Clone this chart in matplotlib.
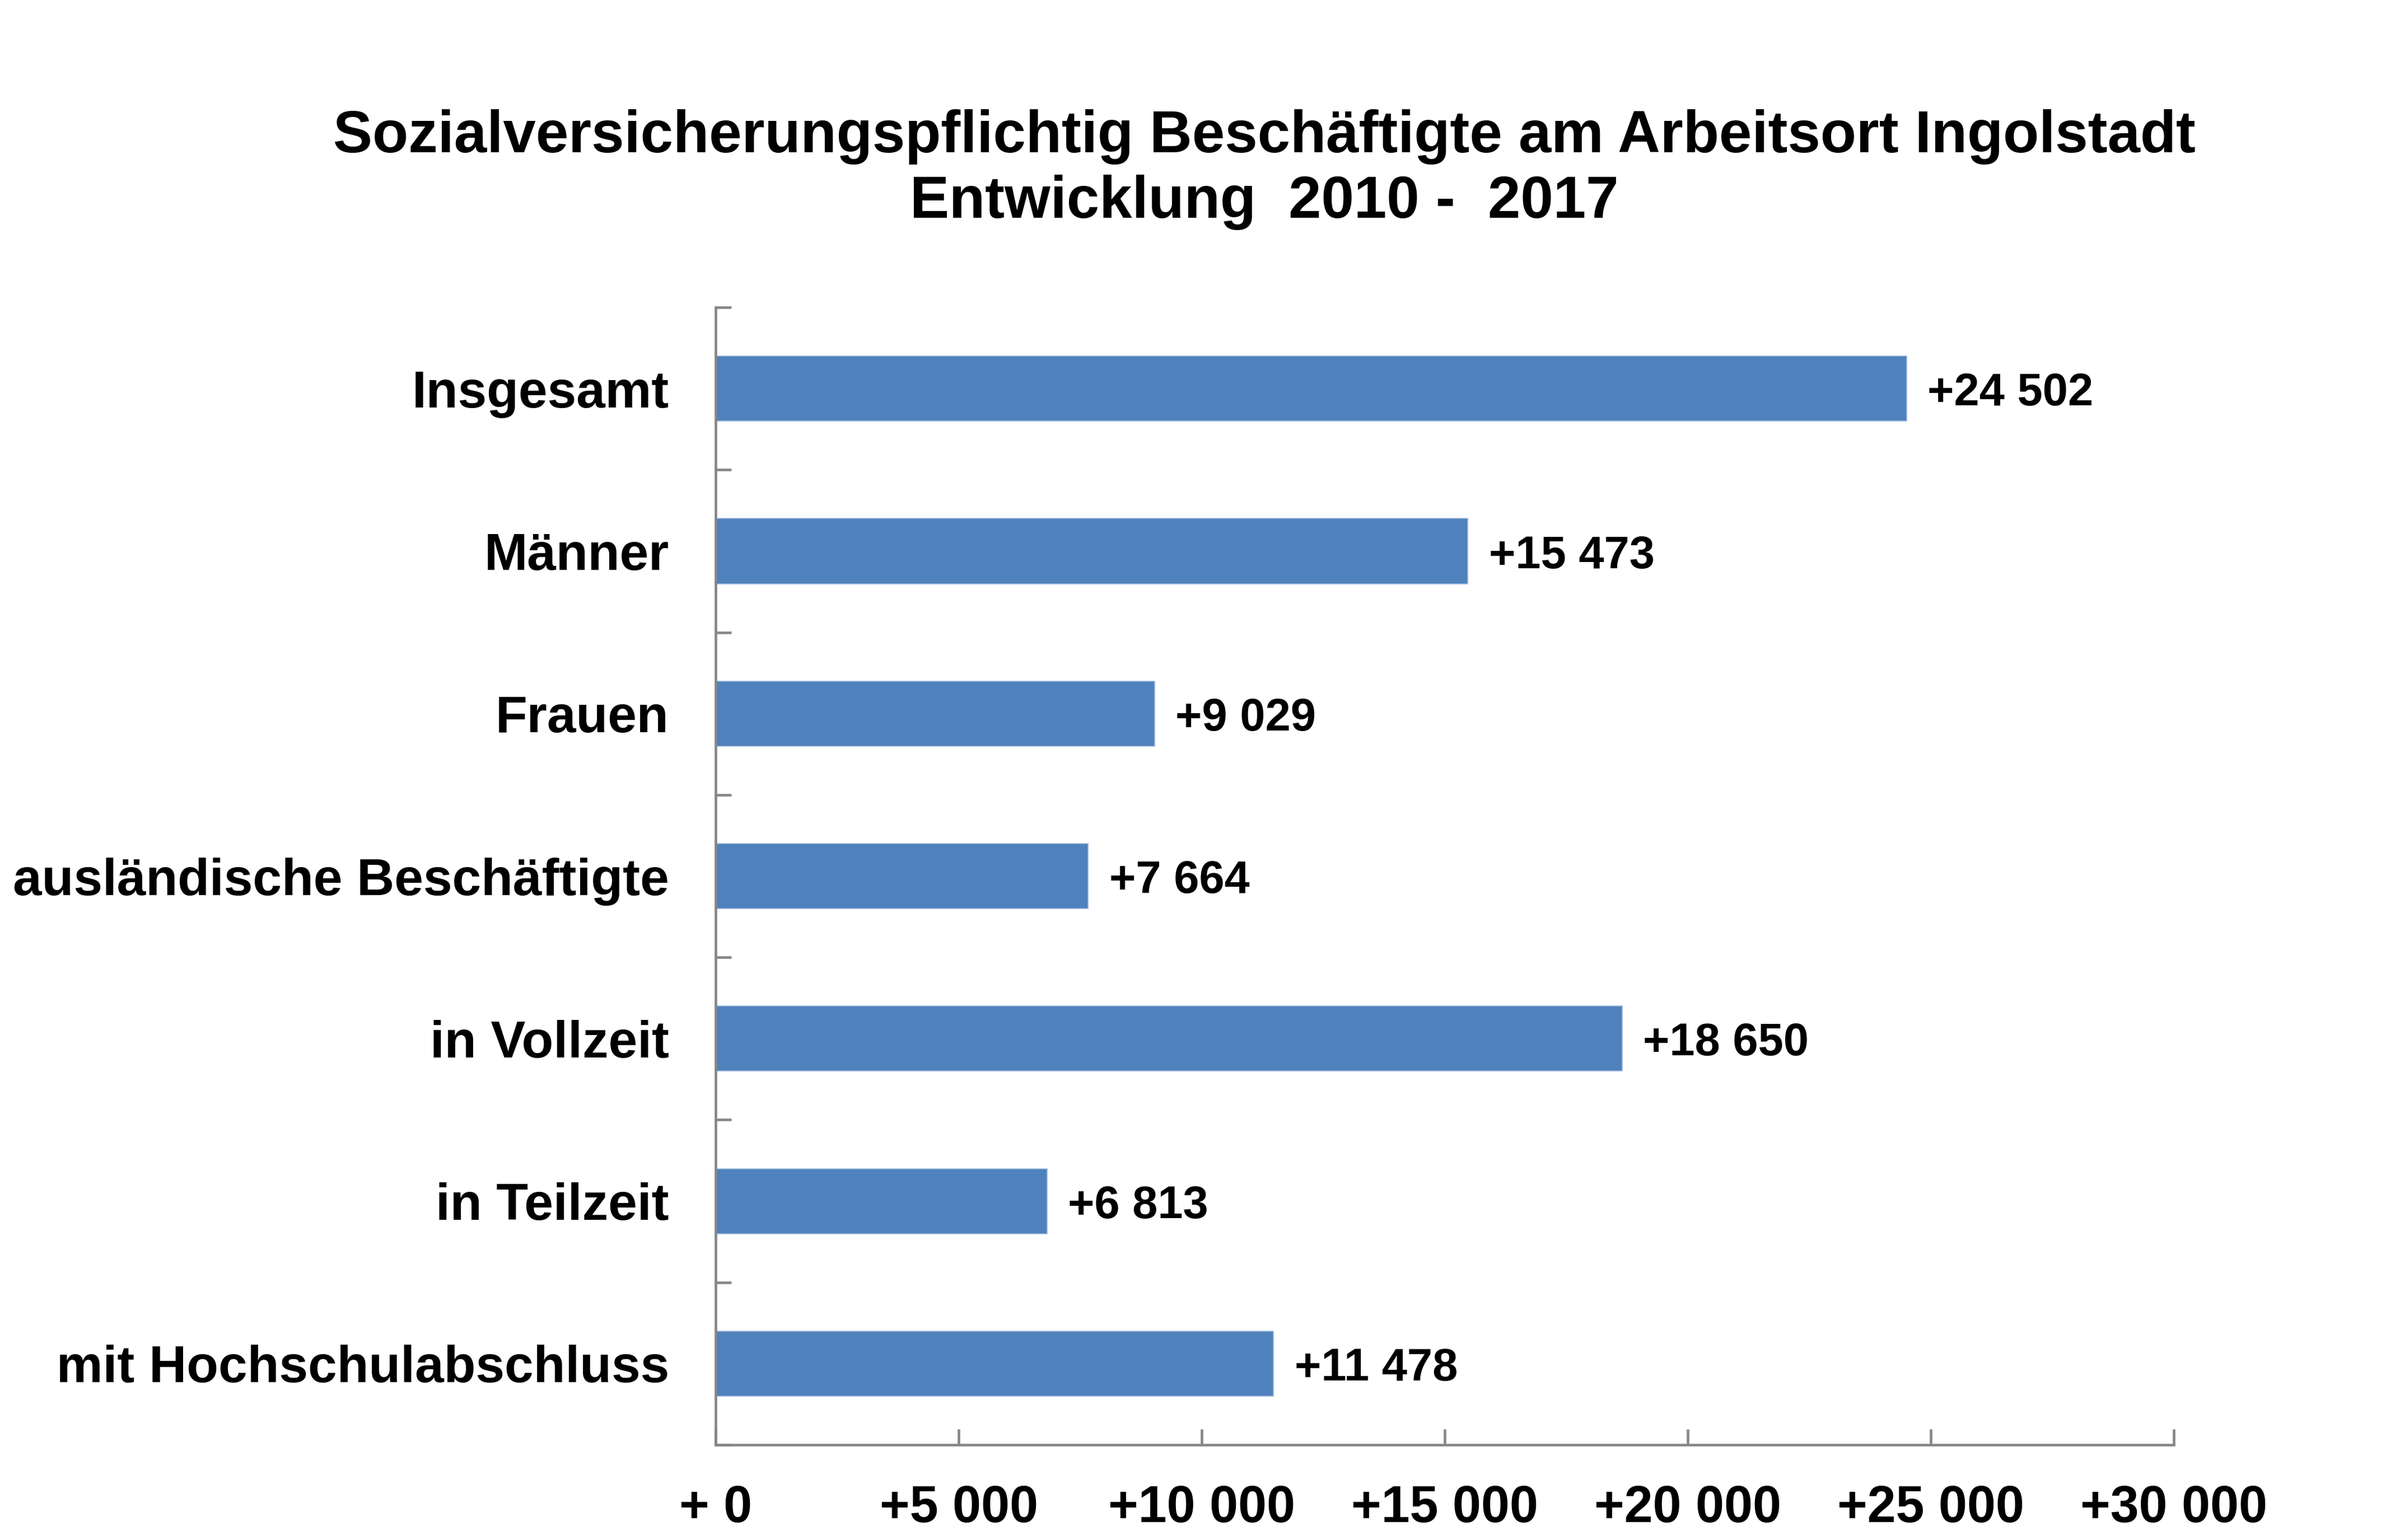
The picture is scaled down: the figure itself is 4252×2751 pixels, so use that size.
import matplotlib
matplotlib.use('Agg')
import matplotlib.pyplot as plt
from matplotlib.ticker import FixedLocator

plt.rcParams['font.family'] = ['Liberation Sans', 'DejaVu Sans']
plt.rcParams['font.weight'] = 'bold'

categories = ['Insgesamt', 'Männer', 'Frauen', 'ausländische Beschäftigte',
              'in Vollzeit', 'in Teilzeit', 'mit Hochschulabschluss']
values = [24502, 15473, 9029, 7664, 18650, 6813, 11478]
xticks = [0, 5000, 10000, 15000, 20000, 25000, 30000]
xticklabels = ['+ 0', '+5 000', '+10 000', '+15 000', '+20 000', '+25 000', '+30 000']
title_1 = 'Sozialversicherungspflichtig Beschäftigte am Arbeitsort Ingolstadt'
title_2 = 'Entwicklung  2010 -  2017'

axis_col = '#868686'
bar_col = '#4F81BD'

fig = plt.figure(figsize=(4252 / 300, 2751 / 300), dpi=300)
ax = fig.add_axes([0.3006, 0.0618, 0.6124, 0.7386])

ypos = list(range(len(categories)))
ax.barh(ypos, values, height=0.4, color=bar_col, edgecolor='#9db8dc', linewidth=0.4)

# value labels right of the bars
for y, v in zip(ypos, values):
    lab = '+' + format(v, ',').replace(',', ' ')
    ax.annotate(lab, (v, y), xytext=(9, -7.2), textcoords='offset points',
                va='baseline', ha='left', fontsize=19.5, fontweight='bold')

ax.set_ylim(len(categories) - 0.5, -0.5)
ax.set_xlim(0, 30000)

ax.set_yticks(ypos)
ax.set_yticklabels(categories, fontsize=22.3, fontweight='bold')
ax.yaxis.set_minor_locator(FixedLocator([i - 0.5 for i in range(len(categories) + 1)]))
ax.tick_params(axis='y', which='major', length=0, pad=20)
ax.tick_params(axis='y', which='minor', direction='in', length=6.7, width=1.1, color=axis_col)

ax.set_xticks(xticks)
ax.set_xticklabels(xticklabels, fontsize=22, fontweight='bold')
ax.tick_params(axis='x', which='major', direction='in', length=6.7, width=1.1,
               color=axis_col, pad=17)

for s in ['top', 'right']:
    ax.spines[s].set_visible(False)
for s in ['left', 'bottom']:
    ax.spines[s].set_color(axis_col)
    ax.spines[s].set_linewidth(1.1)

fig.text(0.531, 0.9011, title_1, ha='center', va='baseline', fontsize=25.2, fontweight='bold')
fig.text(0.531, 0.8586, title_2, ha='center', va='baseline', fontsize=25.2, fontweight='bold')

fig.savefig('out.png', dpi=300, facecolor='white')
